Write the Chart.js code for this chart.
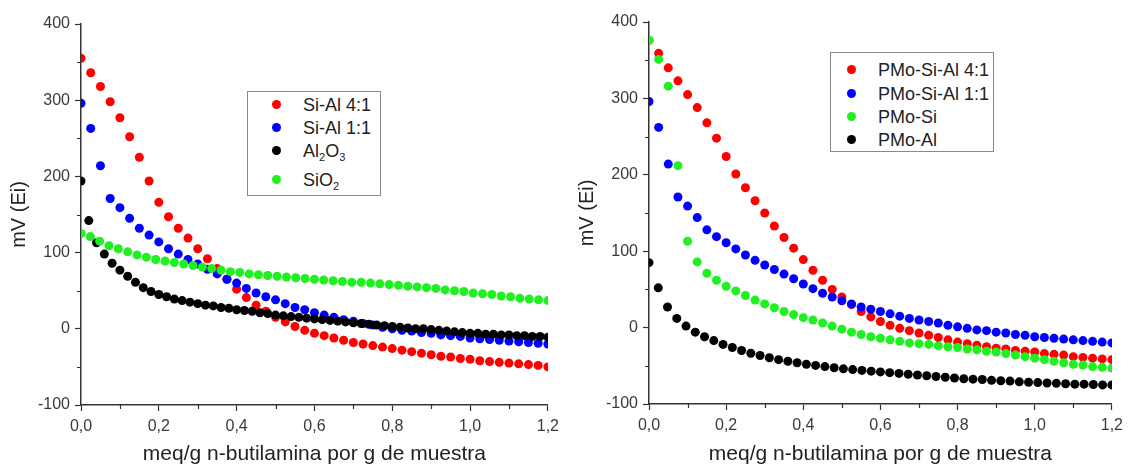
<!DOCTYPE html>
<html>
<head>
  <title>Titulación potenciométrica</title>
  <script src="https://cdn.jsdelivr.net/npm/chart.js"></script>
  <style>
    body { margin: 0; background: #fff; font-family: Arial, "Liberation Sans", sans-serif; }
    .box { position: absolute; height: 467px; top: 0; }
    .legend { position: absolute; border: 1px solid #888; background: #fff; }
    .row { position: absolute; height: 20px; line-height: 20px; font-size: 18px; color: #222; white-space: nowrap; }
    .dot { position: absolute; width: 9px; height: 9px; border-radius: 50%; }
    sub { font-size: 11px; vertical-align: -4px; line-height: 0; }
  </style>
</head>
<body>
  <div class="box" style="left:0;width:565px"><canvas id="leftChart"></canvas></div>
  <div class="box" style="left:565px;width:564px"><canvas id="rightChart"></canvas></div>

  <div class="legend" style="left:247px;top:91px;width:132px;height:103px"></div>
  <div class="dot" style="left:272px;top:100px;background:#ff0000"></div>
  <div class="row" style="left:303px;top:95px">Si-Al 4:1</div>
  <div class="dot" style="left:272px;top:123px;background:#0000ff"></div>
  <div class="row" style="left:303px;top:118px">Si-Al 1:1</div>
  <div class="dot" style="left:272px;top:146px;background:#000"></div>
  <div class="row" style="left:303px;top:141px">Al<sub>2</sub>O<sub>3</sub></div>
  <div class="dot" style="left:272px;top:175px;background:#1ff01f"></div>
  <div class="row" style="left:303px;top:170px">SiO<sub>2</sub></div>

  <div class="legend" style="left:830px;top:52px;width:162px;height:98px"></div>
  <div class="dot" style="left:847px;top:65px;background:#ff0000"></div>
  <div class="row" style="left:878px;top:60px">PMo-Si-Al 4:1</div>
  <div class="dot" style="left:847px;top:89px;background:#0000ff"></div>
  <div class="row" style="left:878px;top:84px">PMo-Si-Al 1:1</div>
  <div class="dot" style="left:847px;top:112px;background:#1ff01f"></div>
  <div class="row" style="left:878px;top:107px">PMo-Si</div>
  <div class="dot" style="left:847px;top:135px;background:#000"></div>
  <div class="row" style="left:878px;top:130px">PMo-Al</div>

<script>
// axis ticks
const xTicks = [0, 0.2, 0.4, 0.6, 0.8, 1.0, 1.2];
const xMinor = [0.1, 0.3, 0.5, 0.7, 0.9, 1.1];
const yTicks = [-100, 0, 100, 200, 300, 400];
const yMinor = [-50, 50, 150, 250, 350];

// left panel (supports), mV vs meq/g
const leftStepRB = 0.025;
const siAl41 = [355, 336, 318, 298, 277, 252, 225, 194, 166, 147, 132, 119, 105, 92, 79, 65, 52, 41, 31, 23,
  15, 9, 3, -2, -6, -9, -12, -15, -18, -20, -22, -24, -26, -28, -30, -32, -34, -36, -37, -39,
  -40, -42, -43, -44, -45, -46, -47, -48, -50];
const siAl11 = [296, 263, 214, 171, 159, 145, 132, 123, 114, 105, 98, 91, 85, 78, 72, 65, 60, 53, 47, 42,
  38, 33, 28, 25, 21, 18, 15, 12, 10, 7, 5, 2, 0, -2, -3, -5, -6, -8, -9, -10,
  -12, -13, -14, -15, -16, -17, -18, -19, -20];
const leftStepAl = 0.02;
const al2o3 = [194, 142, 113, 98, 86, 77, 69, 61, 54, 49, 45, 42, 39, 37, 35, 33, 31, 30, 28, 27,
  25, 24, 23, 21, 20, 18, 17, 16, 15, 14, 13, 12, 11, 10, 9, 8, 7, 6, 5, 4,
  3, 2, 1, 0, 0, -1, -2, -3, -4, -5, -6, -6, -7, -7, -8, -8, -9, -9, -10, -10, -11];
const leftStepSi = 0.024;
const sio2 = [125, 121, 115, 109, 105, 101, 97, 94, 91, 89, 87, 85, 83, 81, 79, 77, 75, 74, 72, 71,
  70, 69, 68, 67, 66, 65, 64, 63, 62, 61, 61, 60, 59, 58, 57, 56, 55, 54, 53, 51,
  50, 49, 47, 46, 45, 43, 42, 40, 39, 38, 37];

// right panel (PMo catalysts)
const rightStep = 0.025;
const pmoSiAl41 = [376, 359, 340, 323, 305, 288, 268, 248, 224, 201, 183, 166, 150, 133, 118, 104, 89, 75, 62, 50,
  40, 30, 21, 14, 8, 3, -1, -4, -7, -10, -13, -16, -19, -21, -23, -25, -27, -28, -30, -31,
  -32, -34, -35, -36, -38, -39, -40, -41, -42];
const pmoSiAl11 = [296, 262, 214, 171, 159, 144, 128, 119, 111, 103, 95, 88, 82, 76, 70, 64, 57, 51, 45, 40,
  35, 31, 27, 24, 21, 18, 15, 12, 10, 8, 6, 3, 1, -1, -3, -4, -6, -7, -9, -10,
  -12, -13, -14, -15, -16, -17, -18, -19, -20];
const pmoSi = [376, 351, 316, 212, 113, 86, 71, 62, 54, 48, 42, 36, 31, 26, 21, 17, 13, 10, 6, 2,
  -2, -6, -9, -12, -14, -16, -18, -20, -21, -22, -24, -25, -26, -28, -29, -31, -32, -34, -36, -38,
  -40, -42, -44, -46, -48, -49, -51, -52, -53];
const rightStepAl = 0.024;
const pmoAl = [85, 52, 27, 12, 2, -6, -12, -17, -22, -26, -30, -33.5, -36.5, -39.5, -42, -44, -46, -48, -49.5, -51,
  -52.5, -54, -55, -56, -57, -58, -59, -60, -61, -62, -63, -64, -65, -66, -67, -67.5, -68, -69, -69.5, -70,
  -71, -71.5, -72, -72.5, -73, -73.5, -74, -74, -74.5, -75, -75];

const RED = '#ff0000', BLUE = '#0000ff', BLACK = '#000000', GREEN = '#1ff01f';

function toPoints(ys, step) {
  return ys.map((y, i) => ({ x: +(i * step).toFixed(3), y: y }));
}

function series(label, ys, step, color, i) {
  return {
    label: label,
    data: toPoints(ys, step),
    backgroundColor: color,
    borderWidth: 0,
    pointRadius: 4.5,
    order: -i
  };
}

// short minor ticks drawn through the chart's own scales
const minorTicks = {
  id: 'minorTicks',
  afterDraw(chart) {
    const ctx = chart.ctx;
    const xs = chart.scales.x, ys = chart.scales.y;
    ctx.save();
    ctx.strokeStyle = '#333';
    ctx.lineWidth = 1.2;
    ctx.beginPath();
    xMinor.forEach(v => {
      const px = Math.round(xs.getPixelForValue(v)) + 0.5;
      ctx.moveTo(px, chart.chartArea.bottom);
      ctx.lineTo(px, chart.chartArea.bottom + 4);
    });
    yMinor.forEach(v => {
      const py = Math.round(ys.getPixelForValue(v)) + 0.5;
      ctx.moveTo(chart.chartArea.left, py);
      ctx.lineTo(chart.chartArea.left - 4, py);
    });
    ctx.stroke();
    ctx.restore();
  }
};

function makeChart(id, datasets, yWidth, xHeight, pad, titlePad) {
  const ctx = document.getElementById(id).getContext('2d');
  return new Chart(ctx, {
    type: 'scatter',
    data: { datasets: datasets },
    options: {
      responsive: true,
      maintainAspectRatio: false,
      animation: false,
      layout: { padding: pad },
      plugins: { legend: { display: false }, tooltip: { enabled: false } },
      scales: {
        x: {
          type: 'linear', min: 0, max: 1.2,
          afterBuildTicks: s => { s.ticks = xTicks.map(v => ({ value: v })); },
          afterFit: s => { s.height = xHeight; },
          ticks: {
            color: '#3a3a3a', padding: 6,
            font: { family: 'Arial', size: 16 },
            callback: v => v.toFixed(1).replace('.', ',')
          },
          grid: { drawOnChartArea: false, drawTicks: true, tickLength: 6, tickWidth: 1.2, tickColor: '#333' },
          border: { display: true, color: '#333', width: 1.5 },
          title: {
            display: true, text: 'meq/g n-butilamina por g de muestra', color: '#222',
            font: { family: 'Arial', size: 21 }, padding: { top: 0, bottom: 0 }
          }
        },
        y: {
          type: 'linear', min: -100, max: 400,
          afterBuildTicks: s => { s.ticks = yTicks.map(v => ({ value: v })); },
          afterFit: s => { s.width = yWidth; },
          ticks: { color: '#3a3a3a', padding: 5, font: { family: 'Arial', size: 16 } },
          grid: { drawOnChartArea: false, drawTicks: true, tickLength: 6, tickWidth: 1.2, tickColor: '#333' },
          border: { display: true, color: '#333', width: 1.5 },
          title: {
            display: true, text: 'mV (Ei)', color: '#222',
            font: { family: 'Arial', size: 20 }, padding: { top: titlePad, bottom: 0 }
          }
        }
      }
    },
    plugins: [minorTicks]
  });
}

makeChart('leftChart', [
  series('Si-Al 4:1', siAl41, leftStepRB, RED, 0),
  series('Si-Al 1:1', siAl11, leftStepRB, BLUE, 1),
  series('Al2O3', al2o3, leftStepAl, BLACK, 2),
  series('SiO2', sio2, leftStepSi, GREEN, 3)
], 81, 62, { top: 24, right: 16, left: 0, bottom: 0 }, 7);

makeChart('rightChart', [
  series('PMo-Si-Al 4:1', pmoSiAl41, rightStep, RED, 0),
  series('PMo-Si-Al 1:1', pmoSiAl11, rightStep, BLUE, 1),
  series('PMo-Si', pmoSi, rightStep, GREEN, 2),
  series('PMo-Al', pmoAl, rightStepAl, BLACK, 3)
], 84, 63, { top: 22, right: 13, left: 0, bottom: 0 }, 10);
</script>
</body>
</html>
